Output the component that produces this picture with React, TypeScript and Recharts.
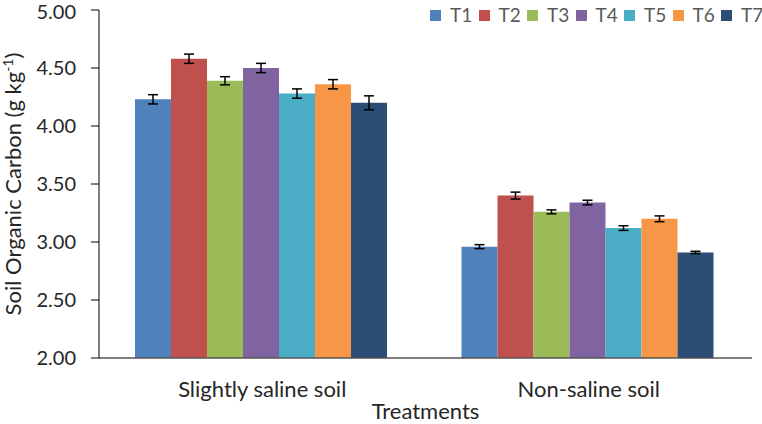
import React from 'react';
import { BarChart, Bar, XAxis, YAxis, Legend, ErrorBar } from 'recharts';

const categories = ['Slightly saline soil', 'Non-saline soil'];
const seriesNames = ['T1', 'T2', 'T3', 'T4', 'T5', 'T6', 'T7'];
const seriesColors = ['#4F81BD', '#C0504D', '#9BBB59', '#8064A2', '#4BACC6', '#F79646', '#2C4D75'];
const T1 = [4.23, 2.96];
const T2 = [4.58, 3.40];
const T3 = [4.39, 3.26];
const T4 = [4.50, 3.34];
const T5 = [4.28, 3.12];
const T6 = [4.36, 3.20];
const T7 = [4.20, 2.91];
const T1err = [0.04, 0.017];
const T2err = [0.04, 0.03];
const T3err = [0.035, 0.017];
const T4err = [0.04, 0.02];
const T5err = [0.04, 0.02];
const T6err = [0.04, 0.025];
const T7err = [0.06, 0.01];
const yTicks = [2.0, 2.5, 3.0, 3.5, 4.0, 4.5, 5.0];

const values = [T1, T2, T3, T4, T5, T6, T7];
const errors = [T1err, T2err, T3err, T4err, T5err, T6err, T7err];

const data = categories.map((c, i) => {
  const row: any = { name: c };
  seriesNames.forEach((s, j) => {
    row[s] = values[j][i];
    row[s + 'err'] = errors[j][i];
  });
  return row;
});

const FONT = 'Lato, "Open Sans", sans-serif';

const YLabel = (props: any) => {
  const vb = props.viewBox || {};
  const cy = vb.y + vb.height / 2;
  return (
    <text
      x={0}
      y={0}
      transform={`translate(21, ${cy}) rotate(-90)`}
      textAnchor="middle"
      fontSize={22}
      fill="#262626"
      fontFamily={FONT}
    >
      Soil Organic Carbon (g kg
      <tspan dy={-8} fontSize={14}>-1</tspan>
      <tspan dy={8}>)</tspan>
    </text>
  );
};

const LegendContent = () => (
  <div style={{ display: 'flex', fontFamily: FONT, fontSize: 19, color: '#595959', lineHeight: '30px', whiteSpace: 'nowrap' }}>
    {seriesNames.map((s, i) => (
      <div key={s} style={{ display: 'flex', alignItems: 'center', width: 48.5, flex: 'none' }}>
        <span style={{ width: 11, height: 11, background: seriesColors[i], display: 'inline-block', marginRight: 9, flex: 'none' }} />
        <span>{s}</span>
      </div>
    ))}
  </div>
);

export default function App() {
  return (
    <div style={{ position: 'absolute', left: 0, top: 0, background: '#fff', overflow: 'hidden', width: 762, height: 424 }}>
      <BarChart
        width={762}
        height={424}
        data={data}
        margin={{ top: 10, right: 10, bottom: 0, left: 0 }}
        barCategoryGap={36}
        barGap={0}
      >
        <XAxis
          dataKey="name"
          tickLine={false}
          tickSize={0}
          tickMargin={23}
          axisLine={{ stroke: '#555', strokeWidth: 1.5 }}
          tick={{ fontSize: 22, fill: '#262626', fontFamily: FONT }}
          height={66}
          label={{ value: 'Treatments', position: 'insideBottom', dy: 0, fontSize: 22, fill: '#262626', fontFamily: FONT }}
        />
        <YAxis
          domain={[2, 5]}
          ticks={yTicks}
          tickFormatter={(v: number) => v.toFixed(2)}
          width={99}
          tickSize={8}
          tickMargin={15}
          axisLine={{ stroke: '#000', strokeWidth: 1 }}
          tickLine={{ stroke: '#000' }}
          tick={{ fontSize: 20, fill: '#262626', fontFamily: FONT }}
          label={<YLabel />}
        />
        <Legend
          verticalAlign="top"
          align="left"
          content={<LegendContent />}
          wrapperStyle={{ top: 0, left: 430, width: 340, height: 0, overflow: 'visible' }}
        />
        {seriesNames.map((s, i) => (
          <Bar key={s} dataKey={s} fill={seriesColors[i]} isAnimationActive={false}>
            <ErrorBar dataKey={s + 'err'} width={5} stroke="#000" strokeWidth={1.5} />
          </Bar>
        ))}
      </BarChart>
    </div>
  );
}
